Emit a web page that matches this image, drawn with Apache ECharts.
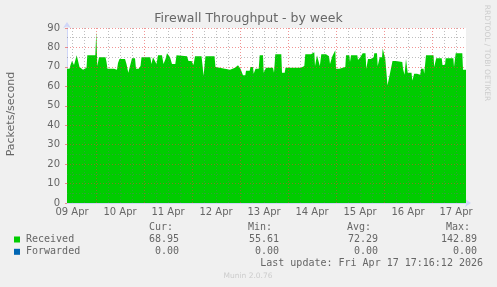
<!DOCTYPE html>
<html><head><meta charset="utf-8">
<script src="https://cdn.jsdelivr.net/npm/echarts@6/dist/echarts.min.js"></script>
<style>html,body{margin:0;padding:0;background:#f0f0f0}#c{width:497px;height:287px}</style>
</head><body><div id="c"></div>
<script>
const chartTitle = 'Firewall Throughput - by week';
const yAxisName = 'Packets/second';
const sideText = 'RRDTOOL / TOBI OETIKER';
const footerText = 'Munin 2.0.76';
const lastUpdate = 'Last update: Fri Apr 17 17:16:12 2026';

// hours since 09 Apr 00:00
const hours = [9.5,10.75,11.25,12,13,13.75,14.35,15.35,15.75,17.5,19.25,19.65,23.65,24.15,24.65,25.5,28.75,29.25,29.75,33,34.5,35,35.75,38.5,39.25,40.15,41,42,43.5,44,45.35,46.25,46.75,51.15,51.75,52.5,53.5,54.25,55,57,57.75,58.75,59.5,60.35,61,62,63.65,64.25,69.5,70.25,71.75,72.75,73.5,76.75,77.25,77.75,78.35,78.75,83.25,83.75,84.5,88.5,91,93.5,95,96.25,97.5,98.65,99,100.85,101.25,102.5,102.85,103.35,103.75,105.35,105.85,107.5,107.85,108.65,109,112.5,113,113.35,113.65,116.65,117,118.35,118.75,124,126.5,126.85,128.15,128.65,131.5,132,132.5,133.15,133.5,134.15,134.5,135.5,135.9,136.25,136.65,139,140.5,141,141.75,142.15,143.15,143.65,144,145.65,146,148.65,149,150.65,151,151.5,154.65,155,155.85,156.15,157,157.35,158.75,159.15,159.65,160,161.35,161.65,162.85,163.15,164.5,164.85,165.5,165.85,167,167.35,168.25,168.65,169.35,169.75,170.5,170.85,171.85,172.25,173.85,177.15,177.5,178,178.25,178.75,179,179.5,179.85,181.75,182.15,182.75,183.1,184.5,186.15,186.5,187.75,188.1,188.65,189,192.75,193.1,193.75,194.1,196.85,197.25,198.5,198.85,202.65,203,203.5,203.85,207.15,207.5,209];
const received = [69,69,71,73,71,70,76,76,70,68.5,69.5,76,76,88,70.5,75,75,72.5,69,69,68.5,72,74,74,71.5,67,70.5,74.5,74.5,69,69,70.5,75,75,71.5,75,75,71.5,76,76,71.5,74,77,77,75,71.5,71.5,76,75.5,73,73,71,75.5,75.5,71,65.5,65.7,75.5,75.5,70,69,69,68.5,69.5,70.8,69,65.7,65.7,68,68,70,70,66.5,66.5,69,69,76,76,67,67,69.5,69.5,67,67,76.5,76.5,67,67,69.5,69.5,69.5,70.5,70.5,76.5,76.5,75.5,77.5,77.5,70.5,70.5,76,76,70.5,70.5,76.5,76.5,75.5,71.5,71.5,75.5,75.5,78.5,69,69,70,70,76,76,72.5,76,76,73.5,73.5,75,75,77,77,69,69,74,74,75,75,77,77,70.5,70.5,75,75,79.5,79.5,74,74,60.5,60.5,66,66,73,73,72.5,69,69,66,66,74,74,67,67,63,63,66.5,66.5,66,69,69,66.5,66.5,76,76,70,70,74.5,74.5,71,71,74.5,74.5,70,70,77,77,68.5,68.5];

const xMin = 9.5, xMax = 209;
const labelHours = [12,36,60,84,108,132,156,180,204];
const dayLabels = ['09 Apr','10 Apr','11 Apr','12 Apr','13 Apr','14 Apr','15 Apr','16 Apr','17 Apr'];
const dayLineHours = [24,48,72,96,120,144,168,192];
const quarterLineHours = [12,18,30,36,42,54,60,66,78,84,90,102,108,114,126,132,138,150,156,162,174,180,186,198,204];
const majorYLines = [10,20,30,40,50,60,70,80,90];
const minorYLines = [5,15,25,35,45,55,65,75,85];

const legendNames = ['Received','Forwarded'];
const legendColors = ['#00cc00','#0066b3'];
const statHeaders = ['Cur:','Min:','Avg:','Max:'];
const curVals = ['68.95','0.00'];
const minVals = ['55.61','0.00'];
const avgVals = ['72.29','0.00'];
const maxVals = ['142.89','0.00'];

const FONT = 'DejaVu Sans';
const MONO = 'DejaVu Sans Mono';
const TXT = '#666666';
const MAJ = 'rgba(230,60,60,0.55)';
const MIN = 'rgba(110,110,110,0.45)';

const chart = echarts.init(document.getElementById('c'), null, {renderer:'canvas'});

const graphics = [];
graphics.push({type:'text', x:248.5, y:19, style:{text:chartTitle, textAlign:'center', textVerticalAlign:'middle', font:'12.5px "'+FONT+'"', fill:TXT}});
graphics.push({type:'text', x:11, y:114, rotation:Math.PI/2, style:{text:yAxisName, textAlign:'center', textVerticalAlign:'middle', font:'11px "'+FONT+'"', fill:TXT}});
graphics.push({type:'text', x:487, y:53, rotation:-Math.PI/2, style:{text:sideText, textAlign:'center', textVerticalAlign:'middle', font:'7.5px "'+FONT+'"', fill:'#cccccc'}});
graphics.push({type:'text', x:248, y:276.5, style:{text:footerText, textAlign:'center', textVerticalAlign:'middle', font:'7.5px "'+FONT+'"', fill:'#cccccc'}});

const headerX = [173,272,371,470];
const valX = [179,279,378,477];
statHeaders.forEach((h,i)=>graphics.push({type:'text', x:headerX[i], y:227.3, style:{text:h, textAlign:'right', textVerticalAlign:'middle', font:'10px "'+MONO+'"', fill:TXT}}));
const cols = [curVals,minVals,avgVals,maxVals];
legendNames.forEach((n,r)=>{
  const y = 239.5 + r*12.3;
  graphics.push({type:'rect', shape:{x:14, y:y-3, width:6, height:6}, style:{fill:legendColors[r]}});
  graphics.push({type:'text', x:26, y:y, style:{text:n, textAlign:'left', textVerticalAlign:'middle', font:'10px "'+MONO+'"', fill:TXT}});
  cols.forEach((c,i)=>graphics.push({type:'text', x:valX[i], y:y, style:{text:c[r], textAlign:'right', textVerticalAlign:'middle', font:'10px "'+MONO+'"', fill:TXT}}));
});
graphics.push({type:'text', x:483, y:263.5, style:{text:lastUpdate, textAlign:'right', textVerticalAlign:'middle', font:'10px "'+MONO+'"', fill:TXT}});

const gridMarks = [];
quarterLineHours.forEach(h=>gridMarks.push({xAxis:h, lineStyle:{color:MIN}}));
minorYLines.forEach(v=>gridMarks.push({yAxis:v, lineStyle:{color:MIN}}));
dayLineHours.forEach(h=>gridMarks.push({xAxis:h, lineStyle:{color:MAJ}}));
majorYLines.forEach(v=>gridMarks.push({yAxis:v, lineStyle:{color:MAJ}}));

chart.setOption({
  backgroundColor:'#f0f0f0',
  animation:false,
  grid:{left:67, right:31, top:28, bottom:84, show:true, backgroundColor:'#ffffff', borderWidth:0},
  xAxis:{
    type:'value', min:xMin, max:xMax,
    axisLine:{show:true, lineStyle:{color:'#cfd6f8', width:1}, symbol:['none','arrow'], symbolSize:[6,6], symbolOffset:[0,5]},
    axisTick:{show:false},
    axisLabel:{customValues:labelHours, margin:4, color:TXT, fontFamily:FONT, fontSize:10,
      formatter:(v)=>dayLabels[labelHours.indexOf(Math.round(v))] || ''},
    splitLine:{show:false}
  },
  yAxis:{
    type:'value', min:0, max:90, interval:10,
    axisLine:{show:true, lineStyle:{color:'#cfd6f8', width:1}, symbol:['none','arrow'], symbolSize:[6,6], symbolOffset:[0,6]},
    axisTick:{show:true, length:2, lineStyle:{color:MAJ}},
    axisLabel:{margin:7, color:TXT, fontFamily:FONT, fontSize:10},
    splitLine:{show:false}
  },
  series:[{
    name:legendNames[0], type:'line', z:1,
    data:hours.map((h,i)=>[h,received[i]]),
    showSymbol:false, symbol:'none',
    lineStyle:{width:0, color:legendColors[0]},
    areaStyle:{color:legendColors[0], opacity:1},
    itemStyle:{color:legendColors[0]}
  },{
    name:'grid', type:'line', z:4, zlevel:0, data:[[xMin,null]], silent:true,
    markLine:{silent:true, symbol:['none','none'], animation:false, label:{show:false},
      emphasis:{disabled:true}, precision:4,
      lineStyle:{type:[1,2], width:1, opacity:1}, data:gridMarks}
  }],
  graphic:graphics
});
</script></body></html>
